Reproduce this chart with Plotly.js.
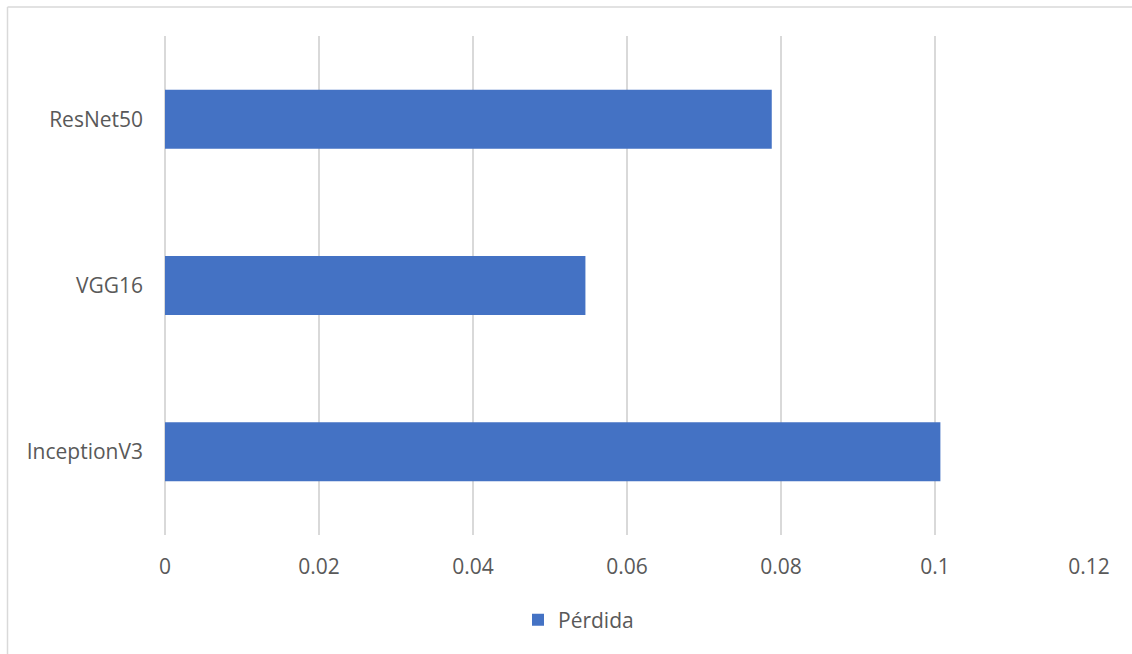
<!DOCTYPE html>
<html>
<head>
<meta charset="utf-8">
<script src="https://cdn.plot.ly/plotly-3.0.1.min.js"></script>
<style>
  html, body { margin: 0; padding: 0; background: #ffffff; }
  #chart { width: 1132px; height: 654px; }
</style>
</head>
<body>
<div id="chart"></div>
<script>
// Data
const models = ["InceptionV3", "VGG16", "ResNet50"];
const perdida = [0.1007, 0.0546, 0.0788];
const seriesName = "Pérdida";
const xTicks = [0, 0.02, 0.04, 0.06, 0.08, 0.1, 0.12];
const xTickLabels = ["0", "0.02", "0.04", "0.06", "0.08", "0.1", "0.12"];

const W = 1132, H = 654;
const mL = 165, mR = 43, mT = 36, mB = 119;
const pw = W - mL - mR, ph = H - mT - mB;
const px = x => (x - mL) / pw;
const py = y => (H - mB - y) / ph;

const fontFam = "'Open Sans', 'Noto Sans', sans-serif";
const grey = "#595959";
const gridCol = "#d9d9d9";
const fs = 21;

const trace = {
  type: "bar",
  orientation: "h",
  y: models,
  x: perdida,
  name: seriesName,
  marker: { color: "#4472C4" },
  hoverinfo: "x+y"
};

const layout = {
  width: W,
  height: H,
  margin: { l: mL, r: mR, t: mT, b: mB, pad: 0 },
  paper_bgcolor: "#ffffff",
  plot_bgcolor: "#ffffff",
  font: { family: fontFam, size: fs, color: grey },
  bargap: 0.645,
  showlegend: true,
  legend: {
    orientation: "h",
    x: px(518), xanchor: "left",
    y: py(620), yanchor: "middle",
    font: { family: fontFam, size: fs, color: grey },
    bgcolor: "rgba(0,0,0,0)"
  },
  xaxis: {
    range: [0, 0.12],
    tickvals: xTicks,
    ticktext: xTickLabels,
    showgrid: true,
    gridcolor: gridCol,
    gridwidth: 1.5,
    zeroline: true,
    zerolinecolor: gridCol,
    zerolinewidth: 1.5,
    showline: false,
    ticks: "",
    ticklabelstandoff: 17,
    tickfont: { family: fontFam, size: fs, color: grey },
    fixedrange: true
  },
  yaxis: {
    type: "category",
    showgrid: false,
    zeroline: false,
    showline: false,
    ticks: "",
    ticklabelstandoff: 21,
    tickfont: { family: fontFam, size: fs, color: grey },
    fixedrange: true
  },
  shapes: [
    { type: "line", xref: "paper", yref: "paper",
      x0: px(7.5), x1: px(W + 5), y0: py(7), y1: py(7),
      line: { color: gridCol, width: 1.5 } },
    { type: "line", xref: "paper", yref: "paper",
      x0: px(7.5), x1: px(7.5), y0: py(7), y1: py(H + 5),
      line: { color: gridCol, width: 1.5 } }
  ]
};

Plotly.newPlot("chart", [trace], layout, { displayModeBar: false, staticPlot: true });
</script>
</body>
</html>
